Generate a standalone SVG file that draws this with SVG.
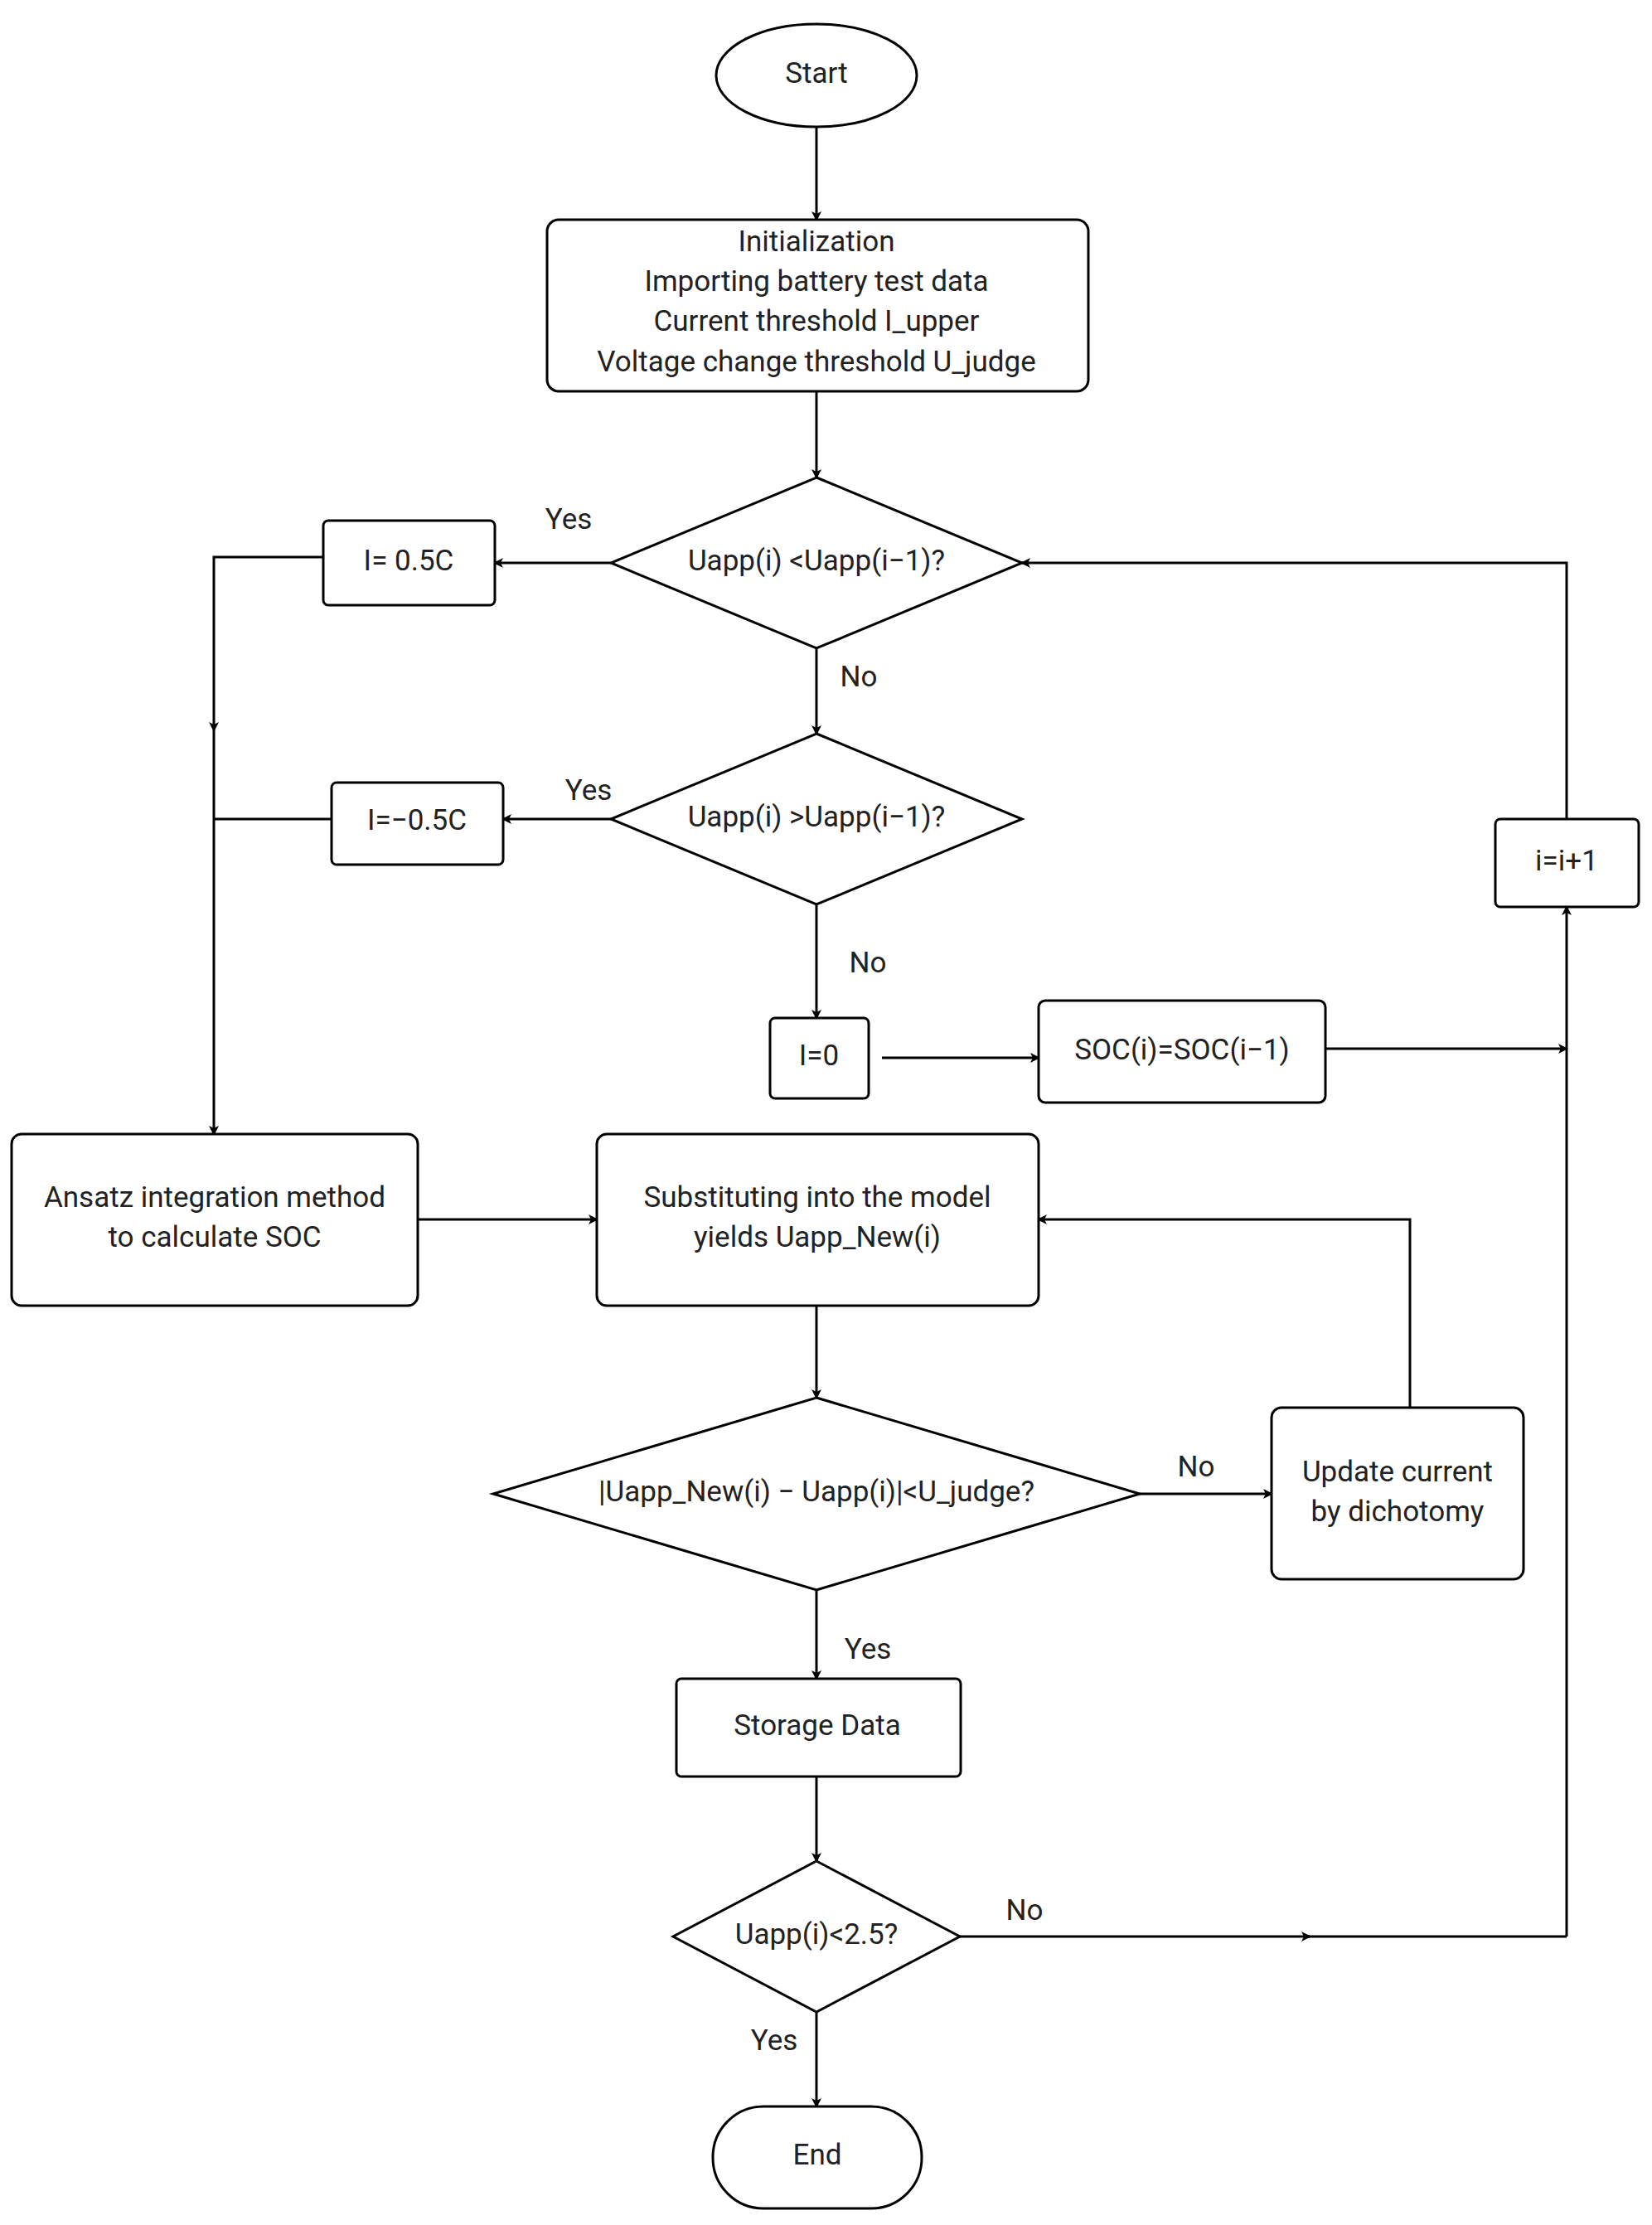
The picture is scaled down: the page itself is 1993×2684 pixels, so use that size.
<svg xmlns="http://www.w3.org/2000/svg" width="1993" height="2684" viewBox="0 0 1993 2684">
<defs>
<marker id="ah" markerWidth="12" markerHeight="12" refX="10" refY="6" orient="auto" markerUnits="userSpaceOnUse" viewBox="0 0 12 12">
<path d="M0,0 L12,6 L0,12 L3,6 Z" fill="#000"/>
</marker>
</defs>
<style>
.s{fill:#fff;stroke:#000;stroke-width:3}
.t{font-family:Roboto,"Liberation Sans",sans-serif;font-size:35px;fill:#222;text-anchor:middle;dominant-baseline:middle}
.c{fill:none;stroke:#000;stroke-width:3}
.m{marker-end:url(#ah)}
</style>
<rect width="1993" height="2684" fill="#fff"/>
<g id="connectors">
<path class="c m" d="M985,153 V265"/>
<path class="c m" d="M985,472 V576"/>
<path class="c m" d="M737,679 H597"/>
<path class="c m" d="M390,672 H258 V881"/>
<path class="c m" d="M258,881 V1368"/>
<path class="c m" d="M985,782 V885"/>
<path class="c m" d="M737,988 H607"/>
<path class="c" d="M400,988 H258"/>
<path class="c m" d="M985,1091 V1228"/>
<path class="c m" d="M1064,1276 H1253"/>
<path class="c m" d="M1599,1265 H1890"/>
<path class="c m" d="M1890,988 V679 H1233"/>
<path class="c m" d="M1890,2336 V1094"/>
<path class="c m" d="M504,1471 H720"/>
<path class="c m" d="M1701,1698 V1471 H1253"/>
<path class="c m" d="M985,1575 V1686"/>
<path class="c m" d="M1375,1802 H1534"/>
<path class="c m" d="M985,1918 V2025"/>
<path class="c m" d="M985,2143 V2245"/>
<path class="c m" d="M1158,2336 H1580"/>
<path class="c" d="M1575,2336 H1890"/>
<path class="c m" d="M985,2427 V2541"/>
<text class="t" x="686" y="629">Yes</text>
<text class="t" x="710" y="956">Yes</text>
<text class="t" x="1036" y="819">No</text>
<text class="t" x="1047" y="1164">No</text>
<text class="t" x="1443" y="1772">No</text>
<text class="t" x="1047" y="1992">Yes</text>
<text class="t" x="1236" y="2307">No</text>
<text class="t" x="934" y="2464">Yes</text>
</g>
<g id="start"><ellipse class="s" cx="985" cy="91" rx="121" ry="62"/><text class="t" x="985" y="91">Start</text></g>
<g id="init"><rect class="s" x="660" y="265" width="653" height="207" rx="14"/>
<text class="t" x="985" y="294">Initialization</text><text class="t" x="985" y="342">Importing battery test data</text><text class="t" x="985" y="390">Current threshold I_upper</text><text class="t" x="985" y="439">Voltage change threshold U_judge</text></g>
<g id="d1"><path class="s" d="M985,576 L1233,679 L985,782 L737,679 Z"/><text class="t" x="985" y="679">Uapp(i) &lt;Uapp(i−1)?</text></g>
<g id="i05"><rect class="s" x="390" y="628" width="207" height="102" rx="6"/><text class="t" x="493" y="679">I= 0.5C</text></g>
<g id="d2"><path class="s" d="M985,885 L1233,988 L985,1091 L737,988 Z"/><text class="t" x="985" y="988">Uapp(i) &gt;Uapp(i−1)?</text></g>
<g id="im05"><rect class="s" x="400" y="944" width="207" height="99" rx="6"/><text class="t" x="503" y="992">I=−0.5C</text></g>
<g id="i0"><rect class="s" x="929" y="1228" width="119" height="97" rx="6"/><text class="t" x="988" y="1276">I=0</text></g>
<g id="soc"><rect class="s" x="1253" y="1207" width="346" height="123" rx="8"/><text class="t" x="1426" y="1269">SOC(i)=SOC(i−1)</text></g>
<g id="inc"><rect class="s" x="1804" y="988" width="173" height="106" rx="6"/><text class="t" x="1890" y="1041">i=i+1</text></g>
<g id="ansatz"><rect class="s" x="14" y="1368" width="490" height="207" rx="12"/><text class="t" x="259" y="1447">Ansatz integration method</text><text class="t" x="259" y="1495">to calculate SOC</text></g>
<g id="subst"><rect class="s" x="720" y="1368" width="533" height="207" rx="12"/><text class="t" x="986" y="1447">Substituting into the model</text><text class="t" x="986" y="1495">yields Uapp_New(i)</text></g>
<g id="update"><rect class="s" x="1534" y="1698" width="304" height="207" rx="12"/><text class="t" x="1686" y="1778">Update current</text><text class="t" x="1686" y="1826">by dichotomy</text></g>
<g id="d3"><path class="s" d="M985,1686 L1375,1802 L985,1918 L595,1802 Z"/><text class="t" x="985" y="1802">|Uapp_New(i) − Uapp(i)|&lt;U_judge?</text></g>
<g id="storage"><rect class="s" x="816" y="2025" width="343" height="118" rx="6"/><text class="t" x="986" y="2084">Storage Data</text></g>
<g id="d4"><path class="s" d="M985,2245 L1158,2336 L985,2427 L812,2336 Z"/><text class="t" x="985" y="2336">Uapp(i)&lt;2.5?</text></g>
<g id="end"><rect class="s" x="860" y="2541" width="252" height="123" rx="61"/><text class="t" x="986" y="2602">End</text></g>
</svg>
